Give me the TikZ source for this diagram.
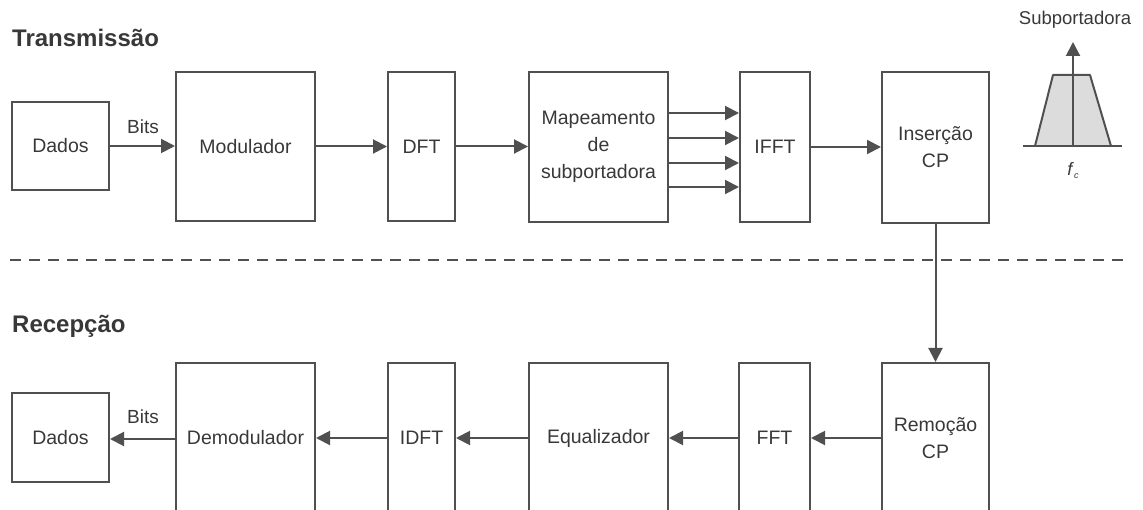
\documentclass[tikz,border=0pt]{standalone}
\usepackage{fontspec}
\setmainfont{Liberation Sans}
\usetikzlibrary{arrows.meta}
\definecolor{ln}{HTML}{505050}
\definecolor{tx}{HTML}{383838}
\definecolor{fl}{HTML}{DCDCDC}
\begin{document}
\begin{tikzpicture}[x=1pt,y=-1pt,
  blk/.style={draw=ln,line width=2pt,inner sep=0pt,align=center,text=tx,
    font=\fontsize{19.5}{27}\selectfont},
  arr/.style={draw=ln,line width=2pt,-{Triangle[length=14pt,width=14pt]}},
  lbl/.style={text=tx,inner sep=0pt,font=\fontsize{19}{23}\selectfont},
  ttl/.style={text=tx,inner sep=0pt,anchor=west,font=\fontsize{24}{28}\bfseries\selectfont}]
\useasboundingbox (0,0) rectangle (1143,510);
\clip (0,0) rectangle (1143,510);
% titles
\node[ttl] (tT) at (12,38) {Transmissão};
\node[ttl] (tR) at (12,326) {Recepção};
% top row
\node[blk,minimum width=97pt,minimum height=88pt] (dadosT) at (60.5,146) {Dados};
\node[blk,minimum width=139pt,minimum height=149pt] (mod) at (245.5,146.5) {Modulador};
\node[blk,minimum width=67pt,minimum height=149pt] (dft) at (421.5,146.5) {DFT};
\node[blk,minimum width=139pt,minimum height=150pt] (map) at (598.5,147) {Mapeamento\\de\\subportadora};
\node[blk,minimum width=70pt,minimum height=150pt] (ifft) at (775,147) {IFFT};
\node[blk,minimum width=107pt,minimum height=151pt] (ins) at (935.5,147.5) {Inserção\\CP};
% bottom row
\node[blk,minimum width=107pt,minimum height=150pt] (rem) at (935.5,438) {Remoção\\CP};
\node[blk,minimum width=71pt,minimum height=150pt] (fft) at (774.5,438) {FFT};
\node[blk,minimum width=139pt,minimum height=150pt] (eq) at (598.5,438) {Equalizador};
\node[blk,minimum width=67pt,minimum height=150pt] (idft) at (421.5,438) {IDFT};
\node[blk,minimum width=139pt,minimum height=150pt] (demod) at (245.5,438) {Demodulador};
\node[blk,minimum width=97pt,minimum height=89pt] (dadosR) at (60.5,437.5) {Dados};
% labels
\node[lbl] (bitsT) at (143,127) {Bits};
\node[lbl] (bitsR) at (143,417) {Bits};
% top arrows
\draw[arr] (dadosT.east) -- (dadosT.east -| mod.west);
\draw[arr] (mod.east) -- (mod.east -| dft.west);
\draw[arr] (dft.east) -- (dft.east -| map.west);
\draw[arr] ([yshift=34pt]map.east) -- ([yshift=34pt]map.east -| ifft.west);
\draw[arr] ([yshift=9pt]map.east) -- ([yshift=9pt]map.east -| ifft.west);
\draw[arr] ([yshift=-16pt]map.east) -- ([yshift=-16pt]map.east -| ifft.west);
\draw[arr] ([yshift=-40pt]map.east) -- ([yshift=-40pt]map.east -| ifft.west);
\draw[arr] (ifft.east) -- (ifft.east -| ins.west);
% separator
\draw[ln,line width=2pt,dash pattern=on 11pt off 8pt] (10,260) -- (1130,260);
% vertical
\draw[arr] (ins.south) -- (rem.north);
% bottom arrows
\draw[arr] (rem.west) -- (rem.west -| fft.east);
\draw[arr] (fft.west) -- (fft.west -| eq.east);
\draw[arr] (eq.west) -- (eq.west -| idft.east);
\draw[arr] (idft.west) -- (idft.west -| demod.east);
\draw[arr] ([yshift=-1pt]demod.west) -- ([yshift=-1pt]demod.west -| dadosR.east);
% subcarrier sketch
\fill[fl] (1035,146) -- (1053,75) -- (1090,75) -- (1111,146) -- cycle;
\draw[ln,line width=2pt,line join=round] (1035,146) -- (1053,75) -- (1090,75) -- (1111,146);
\draw[ln,line width=2pt] (1023,146) -- (1122,146);
\coordinate (fb) at (1073,146);
\coordinate (ft) at (1073,42);
\draw[arr] (fb) -- (ft);
\node[text=tx,inner sep=0pt,font=\fontsize{18.5}{22}\selectfont] (sub) at (1075,20) {Subportadora};
\node[text=tx,inner sep=0pt,font=\fontsize{18}{22}\selectfont] (fc) at (1073,171) {\textit{f}\raisebox{-3pt}{\fontsize{9}{10}\selectfont\itshape c}};
\end{tikzpicture}
\end{document}
